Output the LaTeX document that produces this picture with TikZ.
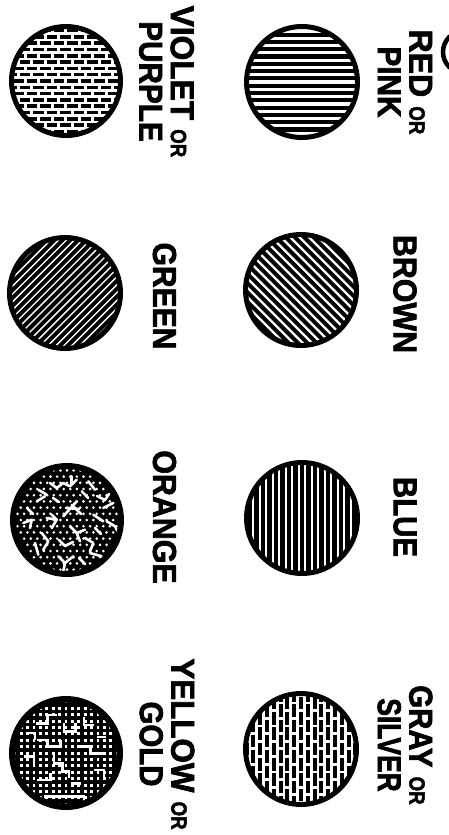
\documentclass[tikz,border=0pt]{standalone}
\usepackage{fontspec}
\usepackage{graphicx}
\newfontfamily\labfont{Liberation Sans}[BoldFeatures={FakeBold=2.2}]
\newcommand{\Wd}[2]{\scalebox{#1}[1]{#2}}
\newcommand{\orsm}{{\fontsize{22}{22}\selectfont\scalebox{0.85}[1]{OR}}}
\begin{document}
\begin{tikzpicture}[x=1pt,y=-1pt,
  lab/.style={font={\labfont\bfseries\fontsize{33}{31.5}\selectfont}, rotate=-90, inner sep=0pt, align=center},
  ring/.style={line width=5pt},
  hatch/.style={line width=#1},
  crack/.style={white, line width=2.6pt, line join=round, line cap=round},
  stepcrack/.style={white, line width=2.6pt, line join=miter, line cap=butt}
]
\useasboundingbox (0,0) rectangle (449,835);

% ---------- centres ----------
\coordinate (cviolet) at (66,81);
\coordinate (cred)    at (302,82);
\coordinate (cgreen)  at (65,293);
\coordinate (cbrown)  at (301,290);
\coordinate (corange) at (67,520);
\coordinate (cblue)   at (302,518);
\coordinate (cyellow) at (66,753);
\coordinate (cgray)   at (301,749);

% ---------- RED: horizontal lines ----------
\begin{scope}[shift={(cred)}]
  \clip (0,0) circle (56);
  \foreach \i in {-8,...,7} \draw[hatch=4.1pt] (-60,{(\i+0.5)*7.3}) -- (60,{(\i+0.5)*7.3});
\end{scope}
\draw[ring] (cred) circle (55.5);

% ---------- BROWN: \ lines ----------
\begin{scope}[shift={(cbrown)}, rotate=-45]
  \clip (0,0) circle (56);
  \foreach \i in {-9,...,9} \draw[hatch=3.9pt] (-60,\i*6.6) -- (60,\i*6.6);
\end{scope}
\draw[ring] (cbrown) circle (55.5);

% ---------- GREEN: / lines ----------
\begin{scope}[shift={(cgreen)}, rotate=45]
  \clip (0,0) circle (56);
  \foreach \i in {-11,...,11} \draw[hatch=3.9pt] (-60,\i*5.6) -- (60,\i*5.6);
\end{scope}
\draw[ring] (cgreen) circle (55.5);

% ---------- BLUE: vertical lines ----------
\begin{scope}[shift={(cblue)}]
  \clip (0,0) circle (56);
  \foreach \i in {-9,...,9} \draw[hatch=4.6pt] (\i*6.5,-60) -- (\i*6.5,60);
\end{scope}
\draw[ring] (cblue) circle (55.5);

% ---------- VIOLET: horizontal dashes (brick) ----------
\begin{scope}[shift={(cviolet)}]
  \clip (0,0) circle (55);
  \foreach \i in {-9,-7,...,9} \draw[hatch=3.5pt, dash pattern=on 10.5pt off 3pt] (-60,\i*6.3) -- (60,\i*6.3);
  \foreach \i in {-8,-6,...,8} \draw[hatch=3.5pt, dash pattern=on 10.5pt off 3pt, dash phase=6.5pt] (-60,\i*6.3) -- (60,\i*6.3);
\end{scope}
\draw[ring] (cviolet) circle (54.5);

% ---------- GRAY: vertical dashes (brick) ----------
\begin{scope}[shift={(cgray)}]
  \clip (0,0) circle (56);
  \foreach \i in {-9,-7,...,9} \draw[hatch=3.9pt, dash pattern=on 12.5pt off 2.8pt] (\i*6.8,-60) -- (\i*6.8,60);
  \foreach \i in {-8,-6,...,8} \draw[hatch=3.9pt, dash pattern=on 12.5pt off 2.8pt, dash phase=7.5pt] (\i*6.8,-60) -- (\i*6.8,60);
\end{scope}
\draw[ring] (cgray) circle (55.5);

% ---------- ORANGE: black with white specks and cracks ----------
\begin{scope}[shift={(corange)}]
  \fill (0,0) circle (56);
  \clip (0,0) circle (51);
  \foreach \b in {-8,-6,...,8} \foreach \a in {-8,...,8} \fill[white] (\a*6.6,\b*6.2) circle (1.45);
  \foreach \b in {-7,-5,...,7} \foreach \a in {-8,...,8} \fill[white] (\a*6.6+3.3,\b*6.2) circle (1.45);
  \draw[crack] (-17,-37) -- (-10.3,-32) -- (-3.7,-37) -- (3,-33.7) -- (9.7,-40.3);
  \draw[crack] (4.7,-43.7) -- (4.7,-35.3);
  \draw[crack] (21.3,-38.7) -- (28,-30.3);
  \draw[crack] (-3.7,-3.7) -- (9.7,-18.7);
  \draw[crack] (4.7,-15.3) -- (14,-6);
  \draw[crack] (-1,-12) -- (12,-11);
  \draw[crack] (-15.3,-5.3) -- (-10.3,-0.3) -- (-15.3,8);
  \draw[crack] (-20.3,-2) -- (-10.3,-0.3);
  \draw[crack] (-43.7,3) -- (-35.3,-0.3) -- (-37,8);
  \draw[crack] (-30.3,-18.7) -- (-22,-23.7);
  \draw[crack] (3,6.3) -- (9.7,13) -- (13,21.3);
  \draw[crack] (9.7,13) -- (18,9.7);
  \draw[crack] (39.7,1.3) -- (48,6.3) -- (53,16.3);
  \draw[crack] (26.3,-5.3) -- (36.3,1.3);
  \draw[crack] (-8.7,36.3) -- (-2,43) -- (-3.7,51.3);
  \draw[crack] (6.3,36.3) -- (-2,43);
  \draw[crack] (23,33) -- (34.7,36.3);
  \draw[crack] (-32,23) -- (-28.7,34.7);
  \draw[crack] (-25.3,13) -- (-18.7,21.3) -- (-23.7,29.7);
  \draw[crack] (36.3,-12) -- (46.3,-17);
  \draw[crack] (18,18) -- (26.3,23) -- (23,31.3);
  \draw[crack] (-28.7,-30.3) -- (-20.3,-25.3);
  \draw[crack] (14.7,-28.7) -- (21.3,-22);
  \draw[crack] (-8,20) -- (-2,26) -- (6,22);
  \draw[crack] (30,-24) -- (38,-20) -- (42,-26);
  \draw[crack] (-40,-12) -- (-34,-6);
  \draw[crack] (28,8) -- (34,14);
  \draw[crack] (-14,-22) -- (-8,-18);
  \draw[crack] (12,38) -- (18,44);
\end{scope}
\draw[ring] (corange) circle (54.5);

% ---------- YELLOW: black with white grid and stepped cracks ----------
\begin{scope}[shift={(cyellow)}]
  \fill (0,0) circle (56);
  \clip (0,0) circle (50.5);
  \foreach \b in {-8,...,8} \foreach \a in {-8,...,8} \fill[white] (\a*6.4-1.4,\b*6.4-1.5) rectangle ++(2.8,3);
  \draw[stepcrack] (-30.3,-29.7) -- (-18.7,-29.7) -- (-18.7,-38) -- (-8.7,-38);
  \draw[stepcrack] (-2,-29.7) -- (-2,-21.3) -- (9.7,-21.3) -- (9.7,-30);
  \draw[stepcrack] (-28.7,-13) -- (-18.7,-13) -- (-18.7,-6.3) -- (-5.3,-6.3) -- (-5.3,-13);
  \draw[stepcrack] (-12,0.3) -- (-12,10.3) -- (-3.7,10.3) -- (-3.7,18.7) -- (3,18.7) -- (3,25);
  \draw[stepcrack] (11.3,-6.3) -- (24.7,-6.3) -- (24.7,0.3) -- (38,0.3);
  \draw[stepcrack] (-42,3.7) -- (-32,3.7) -- (-32,13.7);
  \draw[stepcrack] (-28.7,27) -- (-15.3,27) -- (-15.3,20.3);
  \draw[stepcrack] (-22,43.7) -- (18,43.7) -- (18,48.7);
  \draw[stepcrack] (18,-36.3) -- (18,-28) -- (28,-28);
  \draw[stepcrack] (28,17) -- (38,17) -- (38,23.7);
  \draw[stepcrack] (4.7,30.3) -- (14.7,30.3);
  \draw[stepcrack] (-38,-20) -- (-31,-20) -- (-31,-13);
  \draw[stepcrack] (31,-16) -- (40,-16);
\end{scope}
\draw[ring] (cyellow) circle (54.5);

% ---------- partial ring at top right edge ----------
\begin{scope}
  \clip (0,0) rectangle (449,835);
  \coordinate (cedge) at (464,52);
  \draw[line width=4.5pt] (cedge) circle (21);
\end{scope}

% ---------- labels ----------
\node[lab] (tviolet) at (166.5,81.5) {\Wd{0.96}{VIOLET} \orsm\\\Wd{0.9}{PURPLE}};
\node[lab] (tred)    at (405,82)     {\Wd{0.97}{RED} \orsm\\\Wd{0.9}{PINK}};
\node[lab] (tgreen)  at (164.5,296)  {\Wd{0.91}{GREEN}};
\node[lab] (tbrown)  at (405,294)    {\Wd{0.92}{BROWN}};
\node[lab] (torange) at (164.5,517)  {\Wd{0.92}{ORANGE}};
\node[lab] (tblue)   at (405,517)    {\Wd{0.89}{BLUE}};
\node[lab] (tyellow) at (167,744)    {\Wd{0.95}{YELLOW} \orsm\\\Wd{0.89}{GOLD}};
\node[lab] (tgray)   at (405,745)    {\Wd{0.89}{GRAY} \orsm\\\Wd{0.8}{SILVER}};
\end{tikzpicture}
\end{document}
